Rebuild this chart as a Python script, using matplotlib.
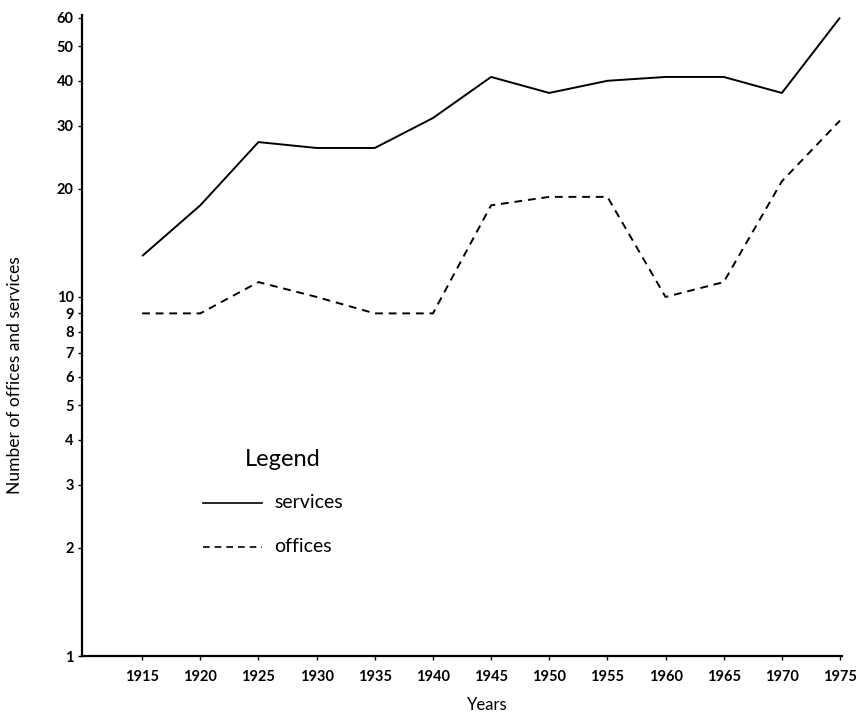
import matplotlib
matplotlib.use("Agg")
import matplotlib.pyplot as plt
from matplotlib.ticker import FixedLocator, NullLocator, FixedFormatter

years = [1915, 1920, 1925, 1930, 1935, 1940, 1945, 1950, 1955, 1960, 1965, 1970, 1975]
services = [13, 18, 27, 26, 26, 31.5, 41, 37, 40, 41, 41, 37, 60]
offices = [9, 9, 11, 10, 9, 9, 18, 19, 19, 10, 11, 21, 31]
y_ticks = [1, 2, 3, 4, 5, 6, 7, 8, 9, 10, 20, 30, 40, 50, 60]
x_ticks = [1915, 1920, 1925, 1930, 1935, 1940, 1945, 1950, 1955, 1960, 1965, 1970, 1975]

plt.rcParams['font.family'] = ['Lato', 'DejaVu Sans']

fig = plt.figure(figsize=(8.61, 7.17), dpi=100)
ax = fig.add_axes([82/861, 61/717, 760/861, 641/717])

ax.plot(years, services, color='black', lw=1.4, solid_capstyle='butt')
ax.plot(years, offices, color='black', lw=1.4, dashes=(4, 3))

ax.set_yscale('log')
ax.set_xlim(1909.83, 1975.17)
ax.set_ylim(1, 61)

ax.yaxis.set_major_locator(FixedLocator(y_ticks))
ax.yaxis.set_major_formatter(FixedFormatter([str(v) for v in y_ticks]))
ax.yaxis.set_minor_locator(NullLocator())
ax.set_xticks(x_ticks)
ax.set_xticklabels([str(v) for v in x_ticks])

for s in ['top', 'right']:
    ax.spines[s].set_visible(False)
for s in ['left', 'bottom']:
    ax.spines[s].set_linewidth(1.6)

ax.tick_params(axis='y', direction='out', length=3, width=1, pad=3,
               labelsize=10.5)
ax.tick_params(axis='x', direction='out', length=3, width=1, pad=7,
               labelsize=10.5)
for lab in ax.get_yticklabels() + ax.get_xticklabels():
    lab.set_fontweight('bold')

fig.text(15/861, 1 - 375/717, 'Number of offices and services', rotation=90,
         ha='center', va='center', fontsize=12.5)
fig.text(487/861, 1 - 705/717, 'Years', ha='center', va='center', fontsize=12)

# legend drawn as in the original
fig.text(283/861, 1 - 460/717, 'Legend', ha='center', va='center', fontsize=17)
fig.add_artist(plt.Line2D([203/861, 262/861], [1 - 503/717, 1 - 503/717],
                          color='black', lw=1.2))
fig.add_artist(plt.Line2D([203/861, 262/861], [1 - 547/717, 1 - 547/717],
                          color='black', lw=1.2, dashes=(4, 3)))
fig.text(274/861, 1 - 503/717, 'services', ha='left', va='center', fontsize=14)
fig.text(274/861, 1 - 547/717, 'offices', ha='left', va='center', fontsize=14)

fig.savefig('out.png', dpi=100, facecolor='white')
